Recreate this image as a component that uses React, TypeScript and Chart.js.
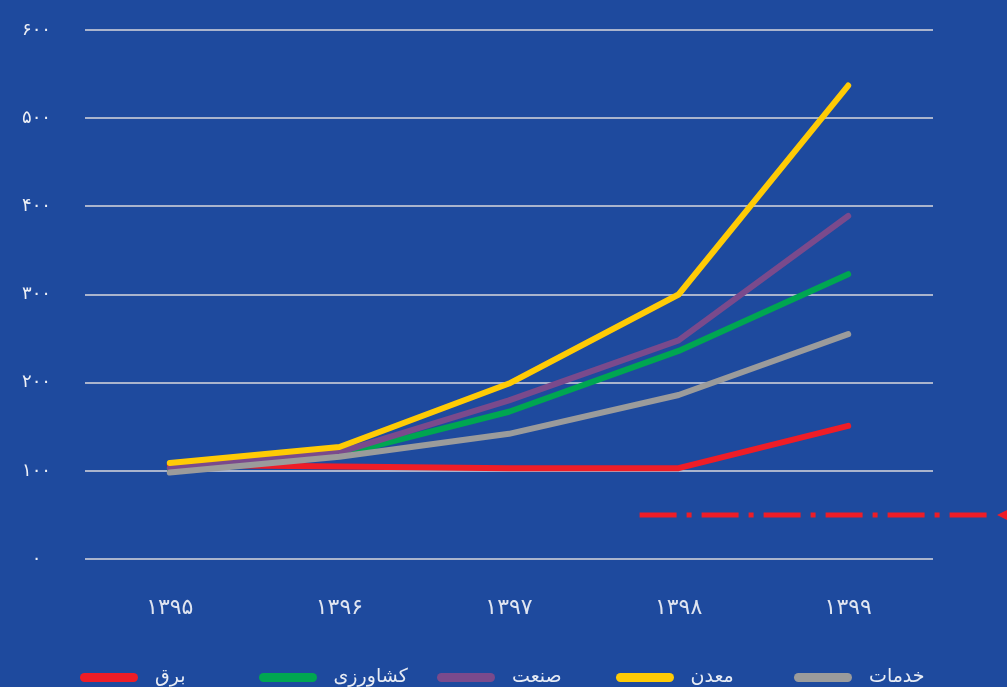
import React, { useEffect, useRef } from "react";
import { Chart, registerables } from "chart.js";

Chart.register(...registerables);

// Years (Solar Hijri) on the horizontal axis
const years = ["۱۳۹۵", "۱۳۹۶", "۱۳۹۷", "۱۳۹۸", "۱۳۹۹"];
// Vertical axis tick labels, one per 100 step
const yTickLabels = ["۰", "۱۰۰", "۲۰۰", "۳۰۰", "۴۰۰", "۵۰۰", "۶۰۰"];

// Index values per sector (base year = 100)
const barq = [107, 105, 103, 103, 151];
const keshavarzi = [102, 118, 167, 236, 323];
const sanat = [103, 121, 180, 248, 389];
const madan = [109, 127, 199, 300, 537];
const khadamat = [98, 116, 142, 186, 255];

// Dash-dot reference level and where it begins along the category axis
const refLevel = 50;
const refStart = 2.77;

const series = [
  { name: "برق", data: barq, color: "#ee1d27", order: 4 },
  { name: "کشاورزی", data: keshavarzi, color: "#00a651", order: 3 },
  { name: "صنعت", data: sanat, color: "#7a4a8c", order: 2 },
  { name: "معدن", data: madan, color: "#ffcb05", order: 0 },
  { name: "خدمات", data: khadamat, color: "#9b9b9b", order: 1 },
];

const BG = "#1e4a9e";
const FONT = "'DejaVu Sans', sans-serif";

const refLinePlugin = {
  id: "refLine",
  afterDatasetsDraw(chart: any) {
    const { ctx, scales, width } = chart;
    const xs = scales.x;
    const ys = scales.y;
    const py = ys.getPixelForValue(refLevel);
    const x0 = xs.getPixelForValue(refStart);
    const tip = width - 10;
    ctx.save();
    ctx.strokeStyle = "#ee1d27";
    ctx.fillStyle = "#ee1d27";
    ctx.lineWidth = 5;
    ctx.setLineDash([37, 10, 5, 10]);
    ctx.beginPath();
    ctx.moveTo(x0, py);
    ctx.lineTo(tip - 4, py);
    ctx.stroke();
    ctx.setLineDash([]);
    ctx.beginPath();
    ctx.moveTo(tip, py);
    ctx.lineTo(tip + 14, py - 7);
    ctx.lineTo(tip + 14, py + 7);
    ctx.closePath();
    ctx.fill();
    ctx.restore();
  },
};

export default function App() {
  const canvasRef = useRef<HTMLCanvasElement | null>(null);

  useEffect(() => {
    if (!canvasRef.current) return;
    const chart = new Chart(canvasRef.current, {
      type: "line",
      data: {
        labels: years,
        datasets: series.map((s) => ({
          label: s.name,
          data: s.data,
          borderColor: s.color,
          backgroundColor: s.color,
          borderWidth: 6,
          pointRadius: 0,
          pointHoverRadius: 0,
          tension: 0,
          fill: false,
          order: s.order,
          borderCapStyle: "round" as const,
          borderJoinStyle: "round" as const,
        })),
      },
      options: {
        animation: false,
        responsive: true,
        maintainAspectRatio: false,
        layout: { padding: { top: 30, right: 74, bottom: 0, left: 0 } },
        plugins: {
          legend: { display: false },
          tooltip: { enabled: false },
        },
        scales: {
          x: {
            offset: true,
            grid: { display: false, drawTicks: false },
            border: { display: false },
            ticks: {
              color: "#dfe4f0",
              padding: 36,
              font: { family: FONT, size: 22 },
            },
            afterFit: (scale: any) => {
              scale.height = 128;
            },
          },
          y: {
            min: 0,
            max: 600,
            grid: {
              color: "#aab4cd",
              lineWidth: 2,
              drawTicks: false,
            },
            border: { display: false },
            ticks: {
              stepSize: 100,
              color: "#eef0f6",
              padding: 34,
              crossAlign: "center",
              font: { family: FONT, size: 18 },
              callback: (value: any) => yTickLabels[Math.round(Number(value) / 100)],
            },
            afterFit: (scale: any) => {
              scale.width = 85;
              scale.paddingTop = 0;
              scale.paddingBottom = 0;
            },
          },
        },
      },
      plugins: [refLinePlugin],
    });
    return () => chart.destroy();
  }, []);

  return (
    <div
      style={{
        position: "fixed",
        left: 0,
        top: 0,
        width: 1007,
        height: 687,
        background: BG,
        overflow: "hidden",
      }}
    >
      <div style={{ position: "absolute", left: 0, top: 0, width: 1007, height: 687 }}>
        <canvas ref={canvasRef} />
      </div>
      <div
        style={{
          position: "absolute",
          left: 80,
          top: 664,
          height: 26,
          display: "flex",
          alignItems: "center",
        }}
      >
        {series.map((s) => (
          <div
            key={s.name}
            style={{ width: 178.5, display: "flex", alignItems: "center" }}
          >
            <span
              style={{
                display: "inline-block",
                width: 58,
                height: 9,
                borderRadius: 5,
                background: s.color,
              }}
            />
            <span
              dir="rtl"
              style={{
                marginLeft: 17,
                fontFamily: FONT,
                fontSize: 19,
                color: "#e8ecf4",
                lineHeight: 1,
                position: "relative",
                top: -2,
              }}
            >
              {s.name}
            </span>
          </div>
        ))}
      </div>
    </div>
  );
}
